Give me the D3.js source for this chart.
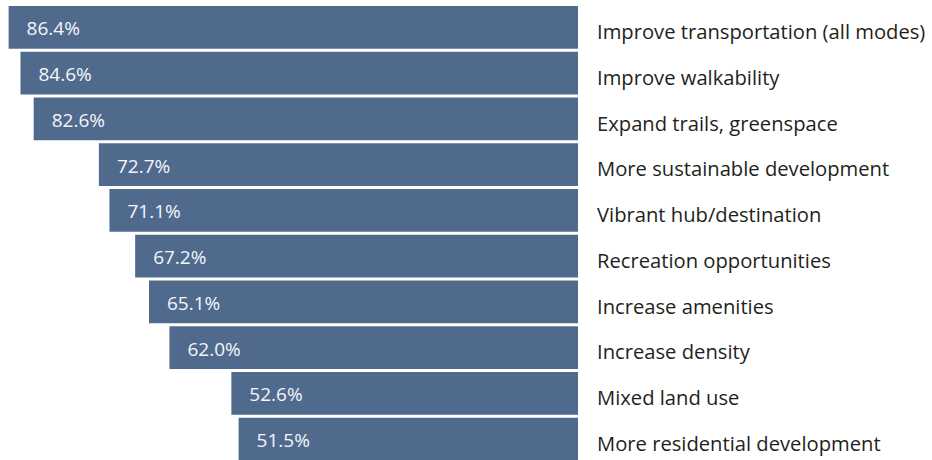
<!DOCTYPE html>
<html>
<head>
<meta charset="utf-8">
<script src="https://cdn.jsdelivr.net/npm/d3@7"></script>
<style>
  html, body { margin: 0; padding: 0; background: #fff; }
  svg { display: block; }
</style>
</head>
<body>
<svg id="chart" width="932" height="460"></svg>
<script>
const categories = [
  "Improve transportation (all modes)",
  "Improve walkability",
  "Expand trails, greenspace",
  "More sustainable development",
  "Vibrant hub/destination",
  "Recreation opportunities",
  "Increase amenities",
  "Increase density",
  "Mixed land use",
  "More residential development"
];
const values = [86.4, 84.6, 82.6, 72.7, 71.1, 67.2, 65.1, 62.0, 52.6, 51.5];

const data = categories.map((c, i) => ({ cat: c, val: values[i] }));

const svg = d3.select("#chart");
const right = 578;

// value -> left edge position (bars grow leftward from the right edge)
const x = d3.scaleLinear().domain([0, 100]).range([right, right - 659]);
const y = d3.scaleBand().domain(categories).range([6, 460.5]).paddingInner(0.066).paddingOuter(0);

const g = svg.append("g");

g.selectAll("rect.bar")
  .data(data)
  .enter().append("rect")
  .attr("class", "bar")
  .attr("x", d => x(d.val))
  .attr("y", d => y(d.cat))
  .attr("width", d => right - x(d.val))
  .attr("height", y.bandwidth())
  .attr("fill", "#506a8e");

g.selectAll("text.val")
  .data(data)
  .enter().append("text")
  .attr("class", "val")
  .attr("x", d => x(d.val) + 18)
  .attr("y", d => y(d.cat) + y.bandwidth() / 2 + 8)
  .attr("fill", "#f4f6fa")
  .style("font-family", "'Open Sans', sans-serif")
  .style("font-size", "19px")
  .text(d => d.val.toFixed(1) + "%");

g.selectAll("text.cat")
  .data(data)
  .enter().append("text")
  .attr("class", "cat")
  .attr("x", 597)
  .attr("y", d => y(d.cat) + 33)
  .attr("fill", "#231f20")
  .style("font-family", "'Open Sans', sans-serif")
  .style("font-size", "20.2px")
  .text(d => d.cat);
</script>
</body>
</html>
